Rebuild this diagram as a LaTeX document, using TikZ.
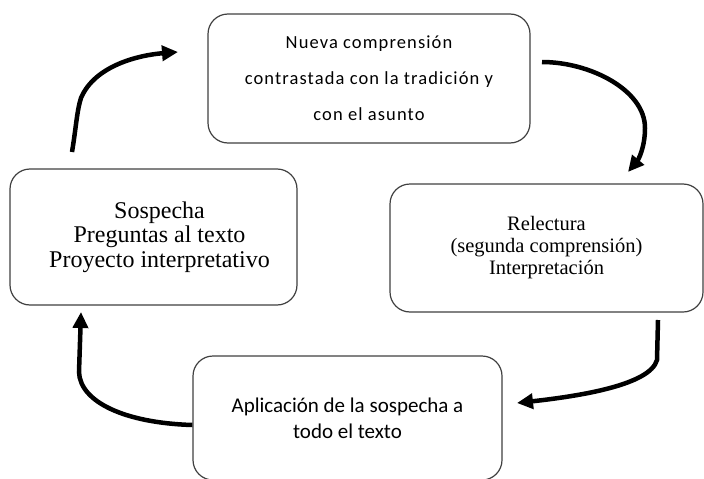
\documentclass[tikz,border=0pt]{standalone}
\usepackage{fontspec}
\usetikzlibrary{arrows.meta}
\newfontfamily\serifbox{Liberation Serif}
\newfontfamily\sansboxsp[LetterSpace=6]{Carlito}
\newfontfamily\sansbox{Carlito}
\tikzset{
  cyclebox/.style={draw=black!75, line width=1.2pt, rounded corners=20pt,
    align=center, inner sep=0pt, fill=white},
  cyclearrow/.style={line width=4.5pt, -{Triangle[length=16pt,width=15pt]}},
}
\begin{document}
\begin{tikzpicture}[x=1pt,y=-1pt]
\useasboundingbox (0,0) rectangle (704,479);
\begin{scope}
\clip (0,0) rectangle (704,479);
\node[cyclebox, minimum width=322pt, minimum height=129pt,
  font={\fontsize{18.5}{36}\selectfont\sansboxsp}] (top) at (369,78.5)
  {Nueva comprensión\\contrastada con la tradición y\\con el asunto};
\node[cyclebox, minimum width=287pt, minimum height=136pt,
  font={\fontsize{24}{24.5}\selectfont\serifbox}] (left) at (153.5,237)
  {\hspace*{12pt}Sospecha\\\hspace*{12pt}Preguntas al texto\\\hspace*{12pt}Proyecto interpretativo};
\node[cyclebox, minimum width=313pt, minimum height=128pt,
  font={\fontsize{20.5}{22}\selectfont\serifbox}] (right) at (546.5,248)
  {Relectura\\(segunda comprensión)\\Interpretación};
\node[cyclebox, minimum width=309pt, minimum height=124pt,
  font={\fontsize{21}{26}\selectfont\sansbox}] (bottom) at (347.5,418)
  {Aplicación de la sospecha a\\todo el texto};
\end{scope}
\coordinate (a1s) at (72,152);
\coordinate (a1e) at (178,52);
\coordinate (a2s) at (542,62);
\coordinate (a2e) at (628,172);
\coordinate (a3s) at (658,320);
\coordinate (a3e) at (517,403);
\coordinate (a4s) at (bottom.west |- 0,425);
\coordinate (a4e) at (81,312);
\draw[cyclearrow] (a1s) .. controls (76,128) and (77,110) .. (81,98)
  .. controls (95,65) and (140,55) .. (a1e);
\draw[cyclearrow] (a2s) .. controls (590,62) and (645,90) .. (645,128)
  .. controls (645,148) and (638,160) .. (a2e);
\draw[cyclearrow] (a3s) -- (657,360) .. controls (650,385) and (580,396) .. (a3e);
\draw[cyclearrow] (a4s) .. controls (125,423) and (80,402) .. (79,372) -- (a4e);
\end{tikzpicture}
\end{document}
